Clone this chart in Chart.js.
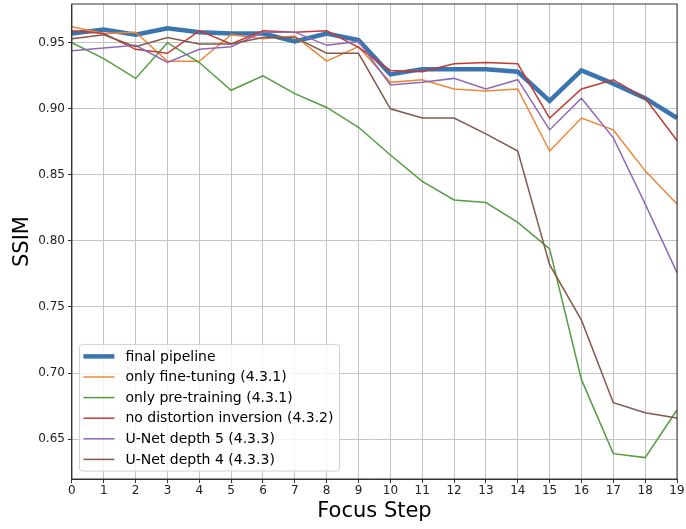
<!DOCTYPE html>
<html>
<head>
<meta charset="utf-8">
<script src="https://cdn.jsdelivr.net/npm/chart.js@4"></script>
<style>
  html, body { margin: 0; padding: 0; background: #fff; }
  #wrap { width: 686px; height: 529px; }
</style>
</head>
<body>
<div id="wrap"><canvas id="ssim-chart" width="686" height="529"></canvas></div>
<script>
const focusSteps = [0, 1, 2, 3, 4, 5, 6, 7, 8, 9, 10, 11, 12, 13, 14, 15, 16, 17, 18, 19]
const yTicks = [0.65, 0.70, 0.75, 0.80, 0.85, 0.90, 0.95]

const finalPipeline = [0.957, 0.960, 0.956, 0.961, 0.958, 0.957, 0.957, 0.951, 0.957, 0.952, 0.926, 0.930, 0.930, 0.930, 0.928, 0.906, 0.929, 0.919, 0.908, 0.893]
const onlyFineTuning = [0.962, 0.957, 0.958, 0.936, 0.936, 0.956, 0.953, 0.955, 0.936, 0.947, 0.920, 0.922, 0.915, 0.9135, 0.915, 0.868, 0.893, 0.884, 0.853, 0.828]
const onlyPreTraining = [0.950, 0.938, 0.923, 0.950, 0.935, 0.914, 0.925, 0.9115, 0.901, 0.886, 0.865, 0.845, 0.831, 0.829, 0.814, 0.794, 0.695, 0.639, 0.636, 0.672]
const noDistortionInversion = [0.959, 0.957, 0.945, 0.942, 0.959, 0.949, 0.959, 0.958, 0.959, 0.9465, 0.929, 0.928, 0.934, 0.935, 0.934, 0.893, 0.915, 0.922, 0.908, 0.876]
const unetDepth5 = [0.944, 0.946, 0.948, 0.935, 0.945, 0.947, 0.958, 0.958, 0.948, 0.951, 0.918, 0.920, 0.923, 0.915, 0.922, 0.884, 0.908, 0.878, 0.828, 0.776]
const unetDepth4 = [0.953, 0.956, 0.947, 0.954, 0.949, 0.949, 0.954, 0.954, 0.942, 0.942, 0.900, 0.893, 0.893, 0.881, 0.868, 0.782, 0.740, 0.6775, 0.670, 0.666]

const seriesNames = ['final pipeline', 'only fine-tuning (4.3.1)', 'only pre-training (4.3.1)',
    'no distortion inversion (4.3.2)', 'U-Net depth 5 (4.3.3)', 'U-Net depth 4 (4.3.3)']
const seriesValues = [finalPipeline, onlyFineTuning, onlyPreTraining, noDistortionInversion, unetDepth5, unetDepth4]
const seriesColors = ['#3b75af', '#ef8636', '#519e3e', '#c53a32', '#8d6ab8', '#84584e']
const seriesWidths = [4.5, 1.5, 1.5, 1.5, 1.5, 1.5]

const FONT = "'DejaVu Sans', sans-serif"

// legend drawn inside the plot, on top of the lines (like matplotlib's lower left legend)
const insideLegend = {
    id: 'insideLegend',
    afterDatasetsDraw(chart) {
        const ctx = chart.ctx
        const area = chart.chartArea
        const sets = chart.data.datasets
        ctx.save()
        ctx.font = '14px ' + FONT
        let maxW = 0
        sets.forEach(ds => { maxW = Math.max(maxW, ctx.measureText(ds.label).width) })
        const rowH = 20.6
        const x0 = area.left + 7.5
        const w = 46 + maxW + 6
        const h = rowH * sets.length + 3
        const y0 = area.bottom - 8 - h
        ctx.fillStyle = 'rgba(255,255,255,0.8)'
        ctx.strokeStyle = '#d0d0d0'
        ctx.lineWidth = 1
        ctx.beginPath()
        ctx.roundRect(x0, y0, w, h, 3)
        ctx.fill()
        ctx.stroke()
        sets.forEach((ds, i) => {
            const cy = y0 + 12 + i * rowH
            ctx.strokeStyle = ds.borderColor
            ctx.lineWidth = ds.borderWidth
            ctx.beginPath()
            ctx.moveTo(x0 + 4, cy)
            ctx.lineTo(x0 + 35, cy)
            ctx.stroke()
            ctx.fillStyle = '#000'
            ctx.textBaseline = 'middle'
            ctx.fillText(ds.label, x0 + 46, cy + 0.5)
        })
        ctx.restore()
    },
    afterDraw(chart) {
        const ctx = chart.ctx
        const a = chart.chartArea
        ctx.save()
        ctx.strokeStyle = '#333'
        ctx.lineWidth = 1
        ctx.strokeRect(a.left, a.top, a.right - a.left, a.bottom - a.top)
        ctx.restore()
    }
}

const ctx = document.getElementById('ssim-chart')

new Chart(ctx, {
    type: 'line',
    data: {
        labels: focusSteps,
        datasets: seriesValues.map((vals, i) => ({
            label: seriesNames[i],
            data: vals,
            borderColor: seriesColors[i],
            backgroundColor: seriesColors[i],
            borderWidth: seriesWidths[i],
            pointRadius: 0,
            tension: 0,
            fill: false,
            order: -i
        }))
    },
    options: {
        responsive: false,
        animation: false,
        events: [],
        layout: { padding: { top: 4, right: 9, bottom: 2.4, left: 0 } },
        plugins: {
            legend: { display: false },
            tooltip: { enabled: false }
        },
        scales: {
            x: {
                type: 'category',
                offset: false,
                grid: { color: '#c4c4c4', lineWidth: 1, tickLength: 4, tickColor: '#333' },
                border: { color: '#333' },
                ticks: { color: '#222', font: { family: FONT, size: 12 }, padding: 1, maxRotation: 0, autoSkip: false },
                title: { display: true, text: 'Focus Step', color: '#000', font: { family: FONT, size: 21 }, padding: { top: 0, bottom: 2 } }
            },
            y: {
                min: 0.6198,
                max: 0.9793,
                afterBuildTicks(scale) { scale.ticks = yTicks.map(v => ({ value: v })) },
                afterFit(scale) { scale.paddingTop = 0; scale.paddingBottom = 0 },
                grid: { color: '#c4c4c4', lineWidth: 1, tickLength: 4, tickColor: '#333' },
                border: { color: '#333' },
                ticks: { color: '#222', font: { family: FONT, size: 12 }, padding: 3, callback: v => v.toFixed(2) },
                title: { display: true, text: 'SSIM', color: '#000', font: { family: FONT, size: 21 }, padding: { top: 10, bottom: 0 } }
            }
        }
    },
    plugins: [insideLegend]
})
</script>
</body>
</html>
